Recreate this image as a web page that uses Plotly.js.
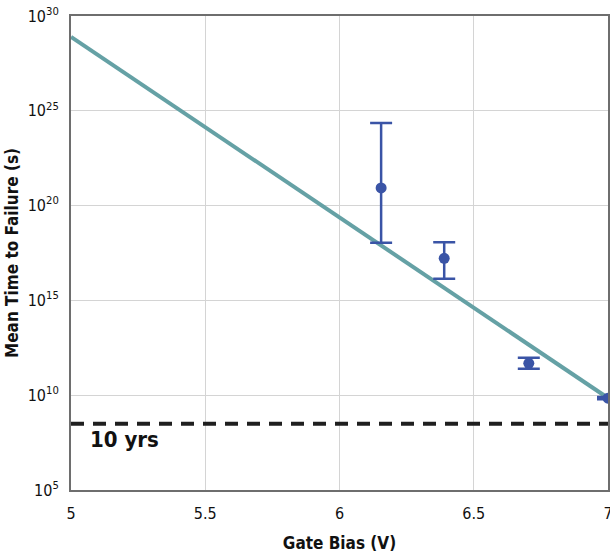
<!DOCTYPE html>
<html>
<head>
<meta charset="utf-8">
<script src="https://cdn.plot.ly/plotly-3.0.1.min.js"></script>
<style>body{margin:0;padding:0;background:#fff}#chart{width:610px;height:553px}</style>
</head>
<body>
<div id="chart"></div>
<script>
// Measured data
const biasV = [6.155, 6.39, 6.705, 7.0];
const mttf = [8.5e20, 1.66e17, 4.8e11, 7.0e9];
const mttfUpper = [2.3e24, 1.15e18, 9.5e11, 8.0e9];
const mttfLower = [1.1e18, 1.4e16, 2.5e11, 6.2e9];
const fitX = [5, 7];
const fitY = [7.9e28, 7.1e9];
const tenYearsS = 3.15e8;
const yTickVals = [1e5, 1e10, 1e15, 1e20, 1e25, 1e30];
const yTickText = ["10<sup>5</sup>", "10<sup>10</sup>", "10<sup>15</sup>", "10<sup>20</sup>", "10<sup>25</sup>", "10<sup>30</sup>"];
const xTickVals = [5, 5.5, 6, 6.5, 7];
const xTickText = ["5", "5.5", "6", "6.5", "7"];

const font = "'DejaVu Sans Condensed', 'Liberation Sans Narrow', 'Roboto', sans-serif";

const traces = [
  {
    x: fitX, y: fitY, mode: 'lines', type: 'scatter',
    line: {color: '#65A1A5', width: 4}, hoverinfo: 'skip', showlegend: false
  },
  {
    x: [fitX[0], fitX[1]], y: [tenYearsS, tenYearsS], mode: 'lines', type: 'scatter',
    line: {color: '#1f1f1f', width: 4, dash: '13px,9px'}, showlegend: false
  },
  {
    x: biasV, y: mttf, mode: 'markers', type: 'scatter',
    marker: {color: '#3A54A6', size: 11},
    error_y: {
      type: 'data', symmetric: false,
      array: mttf.map((v, i) => mttfUpper[i] - v),
      arrayminus: mttf.map((v, i) => v - mttfLower[i]),
      color: '#3A54A6', thickness: 2.5, width: 11
    },
    showlegend: false
  }
];

const layout = {
  width: 610, height: 553,
  margin: {l: 71, r: 2, t: 16, b: 63},
  paper_bgcolor: '#fff', plot_bgcolor: '#fff',
  font: {family: font, color: '#111', size: 15, stretch: 'condensed'},
  xaxis: {
    range: [5, 7], tickvals: xTickVals, ticktext: xTickText,
    ticklabeloverflow: 'allow',
    showgrid: true, gridcolor: '#d4d4d4', gridwidth: 1,
    showline: true, linecolor: '#6e6e6e', linewidth: 2, mirror: true,
    ticks: 'outside', ticklen: 8, tickcolor: 'rgba(0,0,0,0)', zeroline: false,
    tickfont: {family: font, size: 16, color: '#111', stretch: 'condensed'},
    title: {text: '<b>Gate Bias (V)</b>', font: {family: font, size: 17, color: '#111', stretch: 'condensed'}, standoff: 16}
  },
  yaxis: {
    type: 'log', range: [5, 30], tickvals: yTickVals, ticktext: yTickText,
    showgrid: true, gridcolor: '#d4d4d4', gridwidth: 1,
    showline: true, linecolor: '#6e6e6e', linewidth: 2, mirror: true,
    ticks: 'outside', ticklen: 7, tickcolor: 'rgba(0,0,0,0)', zeroline: false,
    tickfont: {family: font, size: 16, color: '#111', stretch: 'condensed'},
    title: {text: '<b>Mean Time to Failure (s)</b>', font: {family: font, size: 17, color: '#111', stretch: 'condensed'}, standoff: 5}
  },
  annotations: [{
    x: 5.2, y: 7.64, xref: 'x', yref: 'y', text: '<b>10 yrs</b>', showarrow: false,
    font: {family: font, size: 22, color: '#111', stretch: 'condensed'}
  }]
};

Plotly.newPlot('chart', traces, layout, {displayModeBar: false, staticPlot: true});
</script>
</body>
</html>
